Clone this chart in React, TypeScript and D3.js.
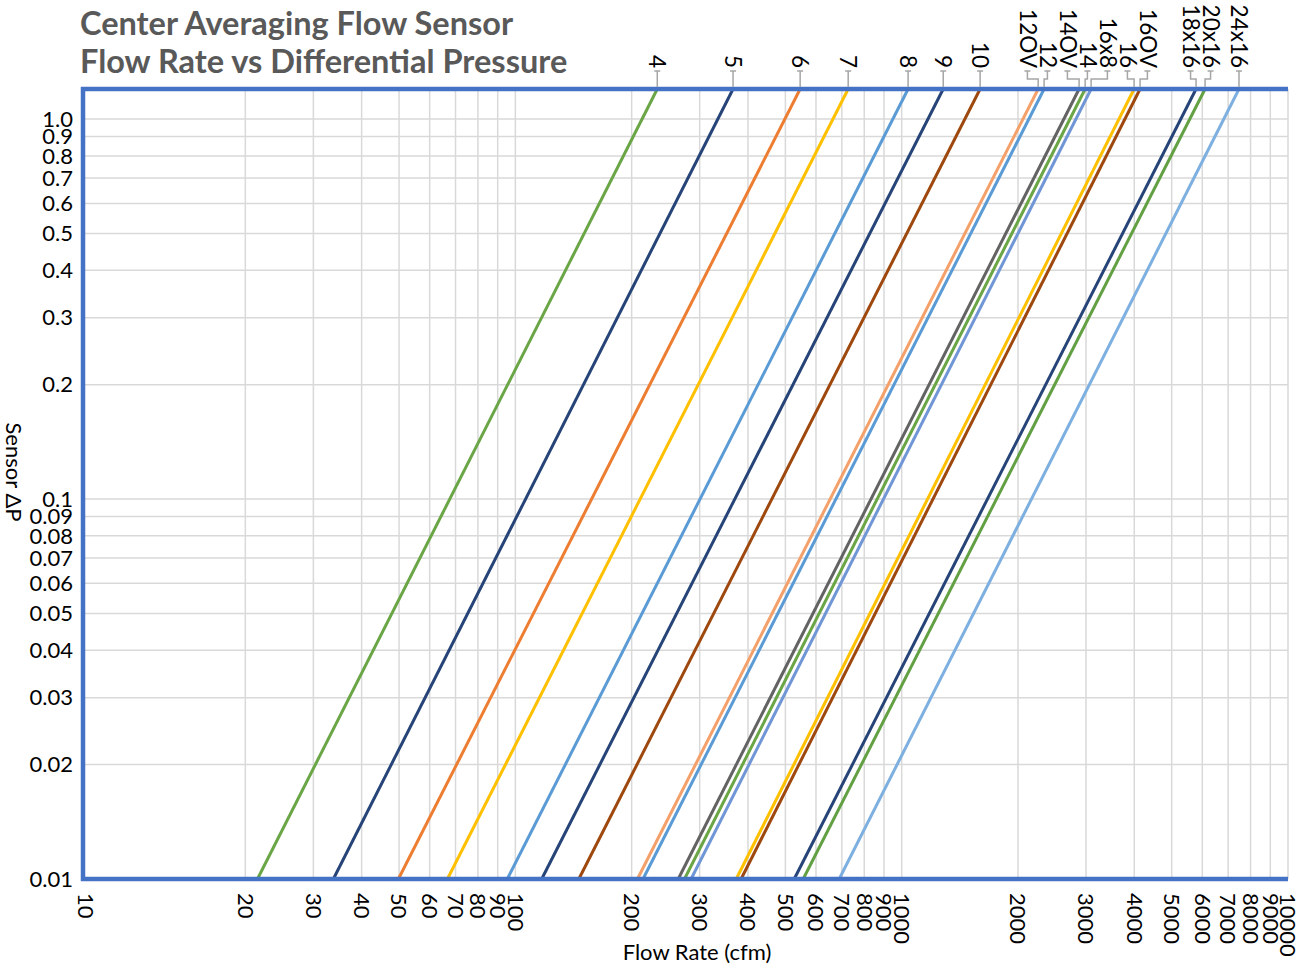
import React from "react";
import * as d3 from "d3";

// ---- data ----
const sizes = ["4", "5", "6", "7", "8", "9", "10", "12OV", "12", "14OV", "14", "16x8", "16", "16OV", "18x16", "20x16", "24x16"];
// flow rate (cfm) where each line meets the bottom (ΔP = 0.01) and top (ΔP = 1.2) of the chart
const dpEnds = [0.01, 1.2];
const flowAtLowDp = [21.5, 33.8, 49.8, 66.7, 95.3, 117, 146, 207, 214, 264, 274, 285, 373, 384, 527, 556, 689];
const flowAtHighDp = [233, 366, 546, 727, 1039, 1281, 1596, 2256, 2337, 2879, 2985, 3093, 3996, 4141, 5781, 6100, 7467];
const seriesColors = ["#6AA546", "#264478", "#ED7D31", "#FFC000", "#5B9BD5", "#264478", "#9E480E", "#F4A06A", "#5B9BD5", "#636363", "#6AA546", "#7096D6", "#FFC000", "#9E480E", "#264478", "#62A043", "#7DB0E0"];

const xTickValues = [10, 20, 30, 40, 50, 60, 70, 80, 90, 100, 200, 300, 400, 500, 600, 700, 800, 900, 1000, 2000, 3000, 4000, 5000, 6000, 7000, 8000, 9000, 10000];
const yTickValues = [0.01, 0.02, 0.03, 0.04, 0.05, 0.06, 0.07, 0.08, 0.09, 0.1, 0.2, 0.3, 0.4, 0.5, 0.6, 0.7, 0.8, 0.9, 1.0];
const yTickLabels = ["0.01", "0.02", "0.03", "0.04", "0.05", "0.06", "0.07", "0.08", "0.09", "0.1", "0.2", "0.3", "0.4", "0.5", "0.6", "0.7", "0.8", "0.9", "1.0"];

const titleLines = ["Center Averaging Flow Sensor", "Flow Rate vs Differential Pressure"];
const xTitle = "Flow Rate (cfm)";
const yTitle = "Sensor ΔP";

// ---- layout ----
const W = 1303;
const H = 966;
const L = 83;
const R = 1288;
const T = 89;
const B = 879;
const FONT = "Lato, 'Open Sans', sans-serif";

export default function App() {
  const x = d3.scaleLog().domain([7.6, 10000]).range([L, R]);
  const y = d3.scaleLog().domain([dpEnds[0], dpEnds[1]]).range([B, T]);
  const line = d3
    .line<[number, number]>()
    .x((d) => x(d[0]))
    .y((d) => y(d[1]));

  // label placement at top: clusters spread with min gap
  const gap = 20;
  const targets = flowAtHighDp.map((f) => x(f));
  let clusters = targets.map((t, i) => ({ idx: [i], center: t }));
  const pos = (c: { idx: number[]; center: number }) =>
    c.idx.map((_, k) => c.center + (k - (c.idx.length - 1) / 2) * gap);
  let changed = true;
  while (changed) {
    changed = false;
    for (let i = 0; i < clusters.length - 1; i++) {
      const a = pos(clusters[i]);
      const b = pos(clusters[i + 1]);
      if (b[0] - a[a.length - 1] < gap) {
        const idx = clusters[i].idx.concat(clusters[i + 1].idx);
        const center = d3.mean(idx, (j) => targets[j]) as number;
        clusters.splice(i, 2, { idx, center });
        changed = true;
        break;
      }
    }
  }
  const labelX: number[] = [];
  clusters.forEach((c) => {
    const p = pos(c);
    c.idx.forEach((j, k) => (labelX[j] = p[k]));
  });

  const labelBottom = 68;
  const leaderTop = 71;
  const elbowY = 79;
  const minTick = xTickValues[0];

  return (
    <svg width={W} height={H} style={{ position: "absolute", left: 0, top: 0, background: "#fff" }} fontFamily={FONT}>
      <rect x={0} y={0} width={W} height={H} fill="#fff" />
      {/* title */}
      {titleLines.map((t, i) => (
        <text key={t} x={80} y={35 + i * 38} fontSize={32.5} fontWeight={700} fill="#595959">
          {t}
        </text>
      ))}

      {/* grid */}
      {xTickValues
        .filter((v) => v !== minTick)
        .map((v) => (
          <line key={"gx" + v} x1={x(v)} x2={x(v)} y1={T} y2={B} stroke="#D9D9D9" strokeWidth={1.5} />
        ))}
      {yTickValues
        .filter((v) => y(v) < B - 5)
        .map((v) => (
          <line key={"gy" + v} x1={L} x2={R} y1={y(v)} y2={y(v)} stroke="#D9D9D9" strokeWidth={1.5} />
        ))}

      {/* series */}
      {sizes.map((s, i) => (
        <path
          key={"s" + s}
          d={line([
            [flowAtLowDp[i], dpEnds[0]],
            [flowAtHighDp[i], dpEnds[1]],
          ]) as string}
          fill="none"
          stroke={seriesColors[i]}
          strokeWidth={3}
        />
      ))}

      {/* border */}
      <path d={`M${R},${T}H${L}V${B}H${R}`} fill="none" stroke="#4472C4" strokeWidth={4.5} />

      {/* y tick labels */}
      {yTickValues.map((v, i) => (
        <text key={"yl" + v} x={73} y={y(v)} dy="0.35em" textAnchor="end" fontSize={22} fill="#000">
          {yTickLabels[i]}
        </text>
      ))}

      {/* x tick labels (the lowest one sits at the axis edge) */}
      {xTickValues.map((v) => {
        const px = v === minTick ? L + 3 : x(v);
        return (
          <text
            key={"xl" + v}
            transform={`translate(${px},893) rotate(90)`}
            dy="0.35em"
            textAnchor="start"
            fontSize={22}
            fill="#000"
          >
            {v}
          </text>
        );
      })}

      {/* axis titles */}
      <text x={697} y={960} textAnchor="middle" fontSize={22} fill="#000">
        {xTitle}
      </text>
      <text transform={`translate(14,472) rotate(90)`} textAnchor="middle" dy="0.35em" fontSize={22} fill="#000">
        {yTitle}
      </text>

      {/* series labels with leaders */}
      {sizes.map((s, i) => {
        const lx = labelX[i];
        const tx = targets[i];
        const d =
          Math.abs(lx - tx) < 2
            ? `M${lx - 3},${leaderTop}H${lx + 3}M${lx},${leaderTop}V${T - 2}`
            : `M${lx - 3},${leaderTop}H${lx + 3}M${lx},${leaderTop}V${elbowY}H${tx}V${T - 2}`;
        return (
          <g key={"lab" + s}>
            <path d={d} fill="none" stroke="#A6A6A6" strokeWidth={1.5} />
            <text
              transform={`translate(${lx},${labelBottom}) rotate(90)`}
              dy="0.35em"
              textAnchor="end"
              fontSize={22.5}
              fill="#000"
            >
              {s}
            </text>
          </g>
        );
      })}
    </svg>
  );
}
